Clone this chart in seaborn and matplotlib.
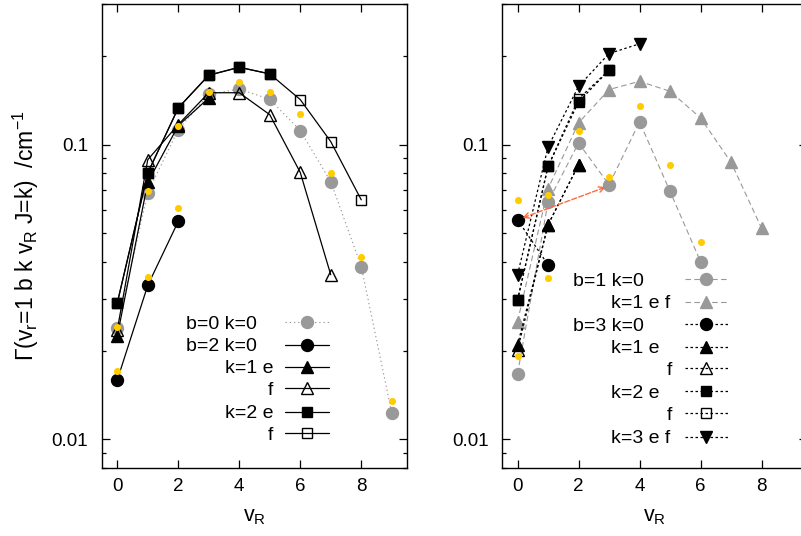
import numpy as np
import matplotlib
matplotlib.use("Agg")
import matplotlib.pyplot as plt
import matplotlib.ticker as mticker
from matplotlib.lines import Line2D
import seaborn as sns

# ---------------- widths Gamma(v_r=1 b k v_R J=k) in cm^-1 ----------------
# left panel: b = 0 and b = 2
vR_b0 = [0, 1, 2, 3, 4, 5, 6, 7, 8, 9]
b0_k0 = [0.0239, 0.0687, 0.1125, 0.148, 0.1545, 0.1425, 0.1116, 0.0749, 0.0386, 0.0123]
calc_b0 = [0.0241, 0.0698, 0.116, 0.1506, 0.1625, 0.151, 0.1272, 0.0801, 0.0417, 0.01349]

vR_b2k0 = [0, 1, 2]
b2_k0 = [0.0159, 0.0333, 0.0549]
calc_b2 = [0.0171, 0.0357, 0.061]

vR_b2k1e = [0, 1, 2, 3]
b2_k1_e = [0.0224, 0.0745, 0.116, 0.144]
vR_b2k1f = [0, 1, 2, 3, 4, 5, 6, 7]
b2_k1_f = [0.0235, 0.0889, 0.117, 0.150, 0.150, 0.1264, 0.0805, 0.0362]

vR_b2k2e = [0, 1, 2, 3, 4, 5]
b2_k2_e = [0.0290, 0.0801, 0.1332, 0.172, 0.183, 0.1738]
vR_b2k2f = [0, 1, 2, 3, 4, 5, 6, 7, 8]
b2_k2_f = [0.0290, 0.0801, 0.1332, 0.172, 0.183, 0.1738, 0.1422, 0.1024, 0.065]

# right panel: b = 1 and b = 3
vR_b1k0 = [0, 1, 2, 3, 4, 5, 6]
b1_k0 = [0.0167, 0.0639, 0.1013, 0.0731, 0.1195, 0.0694, 0.0401]
calc_b1 = [0.0192, 0.0676, 0.111, 0.0774, 0.1357, 0.0851, 0.0469]

vR_b1k1 = [0, 1, 2, 3, 4, 5, 6, 7, 8]
b1_k1 = [0.0251, 0.0709, 0.1185, 0.1538, 0.164, 0.1517, 0.1232, 0.0871, 0.0521]

vR_b3k0 = [0, 1]
b3_k0 = [0.0556, 0.0391]
calc_b3 = [0.065, 0.0352]

vR_b3k1 = [0, 1, 2]
b3_k1_e = [0.0209, 0.0535, 0.0855]
b3_k1_f = [0.0201, 0.0535, 0.0855]

vR_b3k2 = [0, 1, 2, 3]
b3_k2_e = [0.0297, 0.0844, 0.1396, 0.1789]
b3_k2_f = [0.0297, 0.0844, 0.143, 0.1789]

vR_b3k3 = [0, 1, 2, 3, 4]
b3_k3 = [0.0362, 0.0982, 0.1577, 0.2037, 0.2198]

# resonance link between the b=3 k=0 and b=1 k=0 levels
link_from = (2.89, 0.0718)
link_to = (0.16, 0.0564)

left_labels = ["b=0 k=0", "b=2 k=0", "k=1 e", "f", "k=2 e", "f"]
right_labels = ["b=1 k=0", "k=1 e f", "b=3 k=0", "k=1 e", "f", "k=2 e", "f", "k=3 e f"]

# ---------------- styling ----------------
GRAY = "#999999"
GOLD = "#ffcc00"
BLACK = "black"
DOT_GRAY = (0, (1.2, 2.6))
DASH_GRAY = (0, (5, 3))
DOT_BLACK = (0, (2, 2))

sns.set_theme(style="ticks")
plt.rcParams["font.family"] = ["Liberation Sans", "DejaVu Sans"]
plt.rcParams["font.size"] = 14
plt.rcParams["xtick.labelsize"] = 13.5
plt.rcParams["ytick.labelsize"] = 13.5
plt.rcParams["axes.labelsize"] = 15.5
plt.rcParams["text.color"] = "black"
plt.rcParams["axes.labelcolor"] = "black"
plt.rcParams["mathtext.default"] = "regular"

W, H = 801, 536
fig = plt.figure(figsize=(W / 100, H / 100), dpi=100)
axL = fig.add_axes([102 / W, 1 - 468 / H, 305 / W, 464 / H])
axR = fig.add_axes([502.3 / W, 1 - 468 / H, 305 / W, 464 / H])

for ax in (axL, axR):
    ax.set_yscale("log")


def style(color, marker, ms, ls, filled=True, lw=0.9):
    return dict(color=color, marker=marker, markersize=ms, linestyle=ls, linewidth=lw,
                markeredgecolor=color, markerfacecolor=color if filled else "none",
                markeredgewidth=1.0)


st_b0 = style(GRAY, "o", 8.6, DOT_GRAY, lw=0.8)
st_b2k0 = style(BLACK, "o", 8.6, "-")
st_k1e = style(BLACK, "^", 9, "-")
st_k1f = style(BLACK, "^", 9, "-", filled=False)
st_k2e = style(BLACK, "s", 7.8, "-")
st_k2f = style(BLACK, "s", 7.8, "-", filled=False)

st_b1k0 = style(GRAY, "o", 8.6, DASH_GRAY, lw=0.8)
st_b1k1 = style(GRAY, "^", 9, DASH_GRAY, lw=0.8)
st_b3k0 = style(BLACK, "o", 8.6, DOT_BLACK)
st_b3k1e = style(BLACK, "^", 9, DOT_BLACK)
st_b3k1f = style(BLACK, "^", 9, DOT_BLACK, filled=False)
st_b3k2e = style(BLACK, "s", 7.8, DOT_BLACK)
st_b3k2f = style(BLACK, "s", 7.8, DOT_BLACK, filled=False)
st_b3k3 = style(BLACK, "v", 9, DOT_BLACK)


def series(ax, x, y, st):
    sns.lineplot(x=x, y=y, ax=ax, errorbar=None, legend=False, **st)


def calc(ax, x, y):
    sns.scatterplot(x=x, y=y, ax=ax, color=GOLD, s=26, linewidth=0, legend=False, zorder=5)


# left panel
series(axL, vR_b0, b0_k0, st_b0)
series(axL, vR_b2k0, b2_k0, st_b2k0)
series(axL, vR_b2k1e, b2_k1_e, st_k1e)
series(axL, vR_b2k1f, b2_k1_f, st_k1f)
series(axL, vR_b2k2e, b2_k2_e, st_k2e)
series(axL, vR_b2k2f, b2_k2_f, st_k2f)
calc(axL, vR_b0, calc_b0)
calc(axL, vR_b2k0, calc_b2)

# right panel
series(axR, vR_b1k0, b1_k0, st_b1k0)
series(axR, vR_b1k1, b1_k1, st_b1k1)
series(axR, vR_b3k0, b3_k0, st_b3k0)
series(axR, vR_b3k1, b3_k1_e, st_b3k1e)
series(axR, vR_b3k1, b3_k1_f, st_b3k1f)
series(axR, vR_b3k2, b3_k2_e, st_b3k2e)
series(axR, vR_b3k2, b3_k2_f, st_b3k2f)
series(axR, vR_b3k3, b3_k3, st_b3k3)
calc(axR, vR_b1k0, calc_b1)
calc(axR, vR_b3k0, calc_b3)

axR.annotate("", xy=link_to, xytext=link_from,
             arrowprops=dict(arrowstyle="<->", color="#ff6a3d", linestyle="--", lw=1.0,
                             shrinkA=0, shrinkB=0, mutation_scale=10), zorder=6)


# key: right-aligned label followed by a short sample of the line and its marker
def key(ax, rows, xs_text, labels, styles, x0, x1):
    for y, xt, lab, st in zip(rows, xs_text, labels, styles):
        ax.text(xt, y, lab, transform=ax.transAxes, ha="right", va="center_baseline")
        ln = Line2D([x0, x1], [y, y], transform=ax.transAxes,
                    color=st["color"], linestyle=st["linestyle"], linewidth=st["linewidth"])
        mk = Line2D([(x0 + x1) / 2], [y], transform=ax.transAxes, linestyle="none",
                    marker=st["marker"], markersize=st["markersize"],
                    markeredgecolor=st["markeredgecolor"],
                    markerfacecolor=st["markerfacecolor"], markeredgewidth=1.0)
        ax.add_line(ln)
        ax.add_line(mk)


key(axL, [0.314, 0.2651, 0.2177, 0.1718, 0.1213, 0.0748],
    [0.5072, 0.5072, 0.5616, 0.5616, 0.5616, 0.5616],
    left_labels, [st_b0, st_b2k0, st_k1e, st_k1f, st_k2e, st_k2f], 0.600, 0.745)

key(axR, [0.4073, 0.3584, 0.3103, 0.2614, 0.2149, 0.1659, 0.1179, 0.0675],
    [0.4656, 0.5498, 0.4656, 0.517, 0.5554, 0.517, 0.5554, 0.5498],
    right_labels, [st_b1k0, st_b1k1, st_b3k0, st_b3k1e, st_b3k1f, st_b3k2e, st_b3k2f, st_b3k3],
    0.599, 0.740)

# axes, ticks and labels
for ax in (axL, axR):
    ax.set_xlim(-0.5, 9.5)
    ax.set_ylim(0.008, 0.3)
    ax.set_xticks([0, 2, 4, 6, 8])
    ax.set_yticks([0.01, 0.1])
    ax.set_yticklabels(["0.01", "0.1"])
    ax.yaxis.set_minor_locator(mticker.LogLocator(base=10, subs=np.arange(2, 10)))
    ax.yaxis.set_minor_formatter(mticker.NullFormatter())
    ax.tick_params(which="both", direction="in", top=True, right=True,
                   color="black", width=0.9, labelcolor="black")
    ax.tick_params(which="major", length=5.5)
    ax.tick_params(which="minor", length=3)
    ax.tick_params(axis="y", which="major", pad=10)
    ax.tick_params(axis="x", which="major", pad=7)
    for sp in ax.spines.values():
        sp.set_color("black")
        sp.set_linewidth(1.0)
    ax.set_xlabel("v$_R$", labelpad=8)
    ax.set_ylabel("")

axL.set_ylabel("\u0393(v$_r$=1 b k v$_R$ J=k)  /cm$^{-1}$", fontsize=16.5)
axL.yaxis.set_label_coords(-0.20, 0.5)

fig.savefig("out.png", dpi=100)
